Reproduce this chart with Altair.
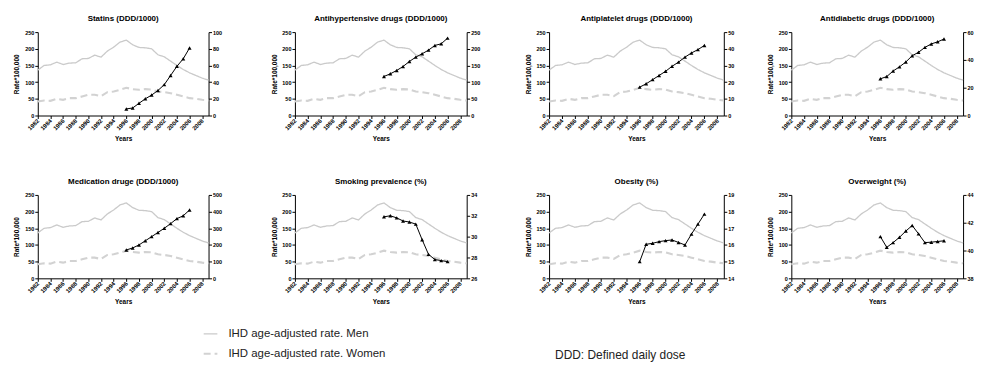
import altair as alt
import pandas as pd

# ---------------- data ----------------
ihd_years = list(range(1982, 2010))
men_rate = [136, 150, 152, 160, 153, 157, 158, 170, 171, 181, 175, 193, 205, 220,
            226, 212, 204, 203, 200, 182, 176, 163, 150, 138, 128, 120, 112, 106]
women_rate = [42, 45, 44, 50, 47, 52, 52, 57, 62, 62, 58, 70, 72, 77,
              83, 79, 77, 79, 78, 72, 70, 67, 62, 57, 52, 50, 47, 45]
sex_labels = ["IHD age-adjusted rate. Men", "IHD age-adjusted rate. Women"]

drug_years = list(range(1996, 2007))
panel_titles = ["Statins (DDD/1000)", "Antihypertensive drugs (DDD/1000)",
                "Antiplatelet drugs (DDD/1000)", "Antidiabetic drugs (DDD/1000)",
                "Medication druge (DDD/1000)", "Smoking prevalence (%)",
                "Obesity (%)", "Overweight (%)"]
statins = [7.9, 9, 14.6, 20, 24.5, 30, 37, 48, 59, 68, 81]
antihypertensive = [117, 125, 135, 147, 162, 175, 185, 196, 210, 215, 232]
antiplatelet = [17, 19, 21.5, 24, 26.5, 29.5, 32, 35, 37.5, 39.5, 42]
antidiabetic = [26.4, 28, 32, 35, 38.5, 43, 45.5, 49, 51.5, 53, 55]
medication = [170, 182, 200, 225, 250, 275, 300, 328, 358, 375, 410]
smoking = [31.9, 32.0, 31.8, 31.5, 31.4, 31.2, 29.7, 28.3, 27.8, 27.7, 27.6]
obesity = [15.0, 16.04, 16.1, 16.2, 16.26, 16.3, 16.15, 16.0, 16.65, 17.25, 17.85]
overweight = [41.0, 40.23, 40.57, 40.95, 41.4, 41.8, 41.2, 40.57, 40.6, 40.65, 40.7]
series = [statins, antihypertensive, antiplatelet, antidiabetic,
          medication, smoking, obesity, overweight]

right_ticks = [[0, 20, 40, 60, 80, 100], [0, 50, 100, 150, 200, 250],
               [0, 10, 20, 30, 40, 50], [0, 20, 40, 60],
               [0, 100, 200, 300, 400, 500], [26, 28, 30, 32, 34],
               [14, 15, 16, 17, 18, 19], [38, 40, 42, 44]]
left_ticks = [0, 50, 100, 150, 200, 250]
year_ticks = list(range(1982, 2009, 2))
footnote = "DDD: Defined daily dose"

# ---------------- build ----------------
ihd_df = pd.DataFrame({
    "year": ihd_years * 2,
    "rate": men_rate + women_rate,
    "sex": [sex_labels[0]] * len(ihd_years) + [sex_labels[1]] * len(ihd_years),
})

FONT = "Liberation Sans"
GRAY = "#cacaca"


def x_axis():
    return alt.Axis(values=year_ticks, format="d", labelAngle=-45, labelAlign="right",
                    labelBaseline="middle", labelFontSize=6, labelFontWeight="bold",
                    labelPadding=1, tickSize=3, title="Years", titleFontSize=6.5,
                    titleFontWeight="bold", titleY=20, titleBaseline="top",
                    domainColor="black", tickColor="black", labelColor="black",
                    grid=False, labelFont=FONT, titleFont=FONT, labelOverlap=False,
                    titleColor="black")


def panel(i, width):
    ihd = alt.Chart(ihd_df).mark_line().encode(
        x=alt.X("year:Q", scale=alt.Scale(domain=[1982, 2009], nice=False), axis=x_axis()),
        y=alt.Y("rate:Q", scale=alt.Scale(domain=[0, 250], nice=False),
                axis=alt.Axis(values=left_ticks, orient="left", title="Rate*100,000",
                              titleFontSize=6.5, titleFontWeight="bold", titlePadding=4,
                              labelFontSize=5.5, labelFontWeight="bold", labelPadding=1,
                              tickSize=3, minExtent=14, maxExtent=14, grid=False,
                              domainColor="black", tickColor="black", labelColor="black",
                              titleColor="black", labelFont=FONT, titleFont=FONT)),
        color=alt.Color("sex:N", scale=alt.Scale(domain=sex_labels, range=[GRAY, "#d2d2d2"]),
                        legend=alt.Legend(title=None, orient="none", legendX=166, legendY=296,
                                          symbolType="stroke", symbolSize=190,
                                          symbolStrokeWidth=1.6, labelFontSize=11.5,
                                          labelFont=FONT, labelColor="#222222",
                                          rowPadding=6, labelOffset=10)),
        strokeDash=alt.StrokeDash("sex:N", scale=alt.Scale(domain=sex_labels,
                                                           range=[[1, 0], [7, 4]]),
                                  legend=alt.Legend(title=None, orient="none", legendX=166,
                                                    legendY=296)),
        strokeWidth=alt.StrokeWidth("sex:N", scale=alt.Scale(domain=sex_labels,
                                                             range=[1.3, 2.1]),
                                    legend=None),
    )
    df = pd.DataFrame({"year": drug_years, "value": series[i]})
    rt = right_ticks[i]
    drug = alt.Chart(df).mark_line(
        color="black", strokeWidth=1,
        point=alt.OverlayMarkDef(shape="triangle-up", size=16, filled=True, color="black"),
    ).encode(
        x=alt.X("year:Q", axis=x_axis()),
        y=alt.Y("value:Q", scale=alt.Scale(domain=[rt[0], rt[-1]], nice=False),
                axis=alt.Axis(values=rt, orient="right", title=None, labelFontSize=5.5,
                              labelFontWeight="bold", labelPadding=1, tickSize=3,
                              grid=False, domainColor="black", tickColor="black",
                              labelColor="black", labelFont=FONT)),
    )
    return alt.layer(ihd, drug).resolve_scale(y="independent").properties(
        width=width, height=84,
        title=alt.TitleParams(panel_titles[i], fontSize=8, fontWeight="bold", font=FONT,
                              color="black", offset=7),
    )


widths = [172, 173, 176, 173]


def row(start):
    p = [panel(start + k, widths[k]) for k in range(4)]
    inner = alt.hconcat(p[2], p[3], spacing=68, bounds="flush")
    mid = alt.hconcat(p[1], inner, spacing=83, bounds="flush")
    return alt.hconcat(p[0], mid, spacing=87, bounds="flush")


chart = alt.vconcat(row(0), row(4), spacing=36, bounds="full").properties(
    padding={"left": 6, "top": 6, "right": 0, "bottom": 0},
    title=alt.TitleParams(footnote, orient="bottom", anchor="start", frame="group",
                          dx=521, offset=-10, fontSize=12, fontWeight="normal", font=FONT,
                          color="#222222"),
).configure_view(stroke=None).configure_axis(grid=False)

chart.save("out.html", embed_options={"renderer": "svg", "actions": False})
